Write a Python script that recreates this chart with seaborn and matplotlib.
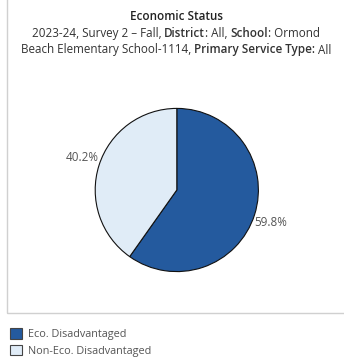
import matplotlib
matplotlib.use("Agg")
import numpy as np
import matplotlib.pyplot as plt
from matplotlib.patches import Rectangle, Patch
import seaborn as sns

# Survey data: share of students by economic status
categories = ["Eco. Disadvantaged", "Non-Eco. Disadvantaged"]
shares = [59.8, 40.2]
colors = ["#245a9e", "#e0ecf7"]

title = "Economic Status"
subtitle_lines = [
    [("2023-24, Survey 2 \u2013 Fall, ", False), ("District", True), (": All, ", False),
     ("School", True), (": Ormond", False)],
    [("Beach Elementary School-1114, ", False), ("Primary Service Type:", True), (" All", False)],
]

sns.set_theme(style="white")
plt.rcParams["font.family"] = ["Open Sans", "DejaVu Sans"]

W, H, DPI = 344, 360, 100
fig = plt.figure(figsize=(W / DPI, H / DPI), dpi=DPI)
fig.patch.set_facecolor("white")

def fx(px):
    return px / W

def fy(py):
    return 1 - py / H

# light frame around the chart area
fig.patches.append(Rectangle((fx(6.5), fy(312.5)), fx(400), fy(-10) - fy(312.5),
                             transform=fig.transFigure, fill=False,
                             edgecolor="#d0d0d0", linewidth=1.0))

FS = 8.4
BOLD = "semibold"
TXT = "#333333"
fig.text(fx(177), fy(16), title, ha="center", va="center", fontsize=FS,
         fontweight=BOLD, color="#222222")

renderer = fig.canvas.get_renderer()
for line, ypx in zip(subtitle_lines, [33.5, 50]):
    parts = []
    for s, bold in line:
        t = fig.text(0, fy(ypx), s, ha="left", va="center", fontsize=FS,
                     fontweight=BOLD if bold else "normal", color=TXT)
        parts.append(t)
    widths = [p.get_window_extent(renderer).width for p in parts]
    x = 176 - sum(widths) / 2
    for p, w in zip(parts, widths):
        p.set_x(fx(x))
        x += w

# pie
cx, cy, r = 176.8, 190.0, 81.6
ax = fig.add_axes([fx(cx - r), fy(cy + r), fx(2 * r), fy(cy - r) - fy(cy + r)])
wedges, _ = ax.pie(
    shares, colors=colors, startangle=90, counterclock=False, radius=1.0,
    wedgeprops=dict(edgecolor="#111111", linewidth=0.8),
)
# percentage labels just outside each wedge, at its middle angle
for w, v in zip(wedges, shares):
    mid = np.deg2rad((w.theta1 + w.theta2) / 2)
    x, y = np.cos(mid), np.sin(mid)
    ax.text(1.0 * x, 1.33 * y, f"{v:.1f}%", ha="left" if x > 0 else "right",
            va="center", fontsize=FS, color="#555555")
ax.set_xlim(-1, 1)
ax.set_ylim(-1, 1)
ax.set_aspect("equal")
ax.axis("off")

# legend
handles = [Patch(facecolor=c, edgecolor="#444444", linewidth=0.8) for c in colors]
fig.legend(handles, categories, loc="upper left",
           bbox_to_anchor=(fx(7.5), fy(326)), frameon=False,
           fontsize=7.8, labelcolor="#555555",
           handlelength=1.1, handleheight=1.1, handletextpad=0.6,
           labelspacing=0.45, borderpad=0.2, borderaxespad=0)

fig.savefig("out.png", dpi=DPI)
